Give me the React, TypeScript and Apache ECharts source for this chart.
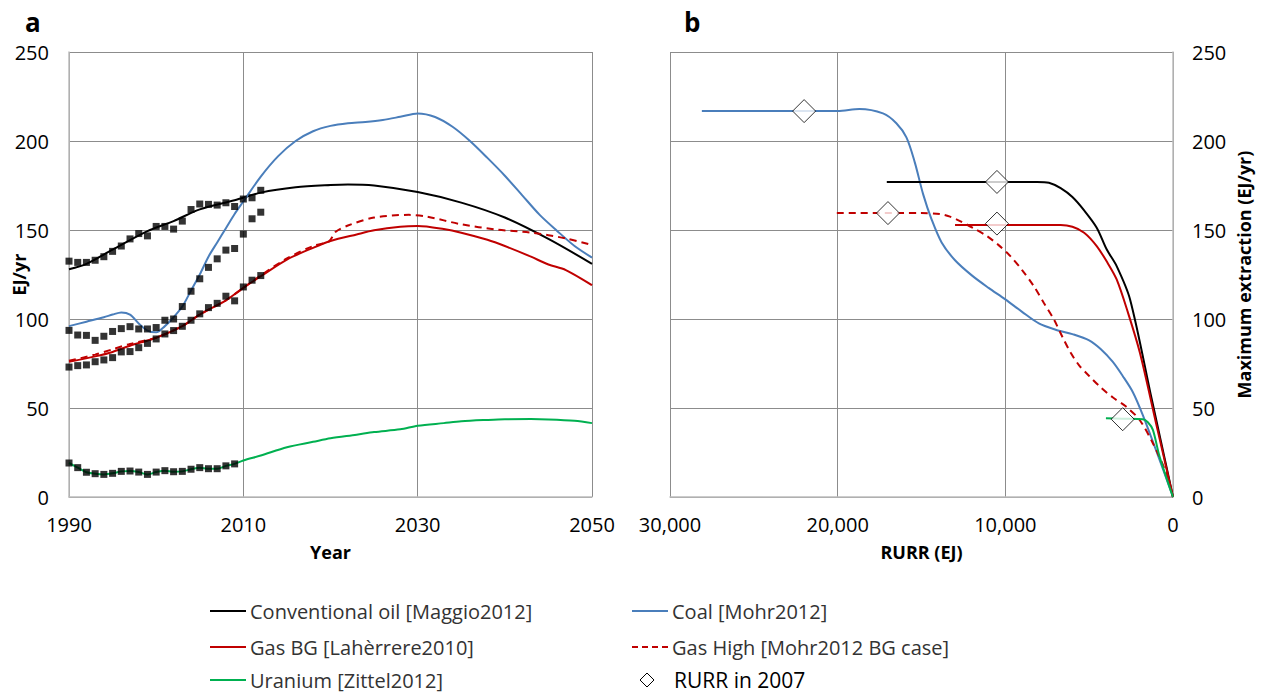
import React, { useEffect, useRef } from "react";
import * as echarts from "echarts";

// ---------- Panel a: historical data (black squares) ----------
const histYears = [1990, 1991, 1992, 1993, 1994, 1995, 1996, 1997, 1998, 1999, 2000, 2001, 2002, 2003, 2004, 2005, 2006, 2007, 2008, 2009, 2010, 2011, 2012];
const oilHist = [132.5, 131.8, 131.8, 133, 135, 138, 141, 145, 148, 146.7, 152, 152, 150.5, 155, 161.5, 164.6, 164.4, 164, 165.3, 163.2, 167.4, 168.1, 172.3];
const coalHist = [93.6, 91, 90.8, 88, 90.3, 93, 94.6, 95.7, 94.4, 94.4, 95.2, 99.3, 100, 107, 115.6, 122.6, 129, 133.8, 138.7, 139.6, 147.7, 156.3, 160];
const gasHist = [73, 73.8, 74.2, 76, 77, 78.3, 81.5, 81.7, 83.9, 86.3, 88.8, 91.6, 93.5, 95.9, 99.3, 102.9, 106.4, 108.8, 112.8, 110.2, 118, 121.8, 124.4];
const uraniumHist = [19.1, 16.5, 13.9, 13.1, 12.7, 13.3, 14.4, 14.6, 14.0, 12.7, 14.0, 14.8, 14.2, 14.4, 15.6, 16.5, 15.9, 15.9, 17.5, 18.6];

// ---------- Panel a: model curves [year, EJ/yr] ----------
const oilCurve = [[1990, 128], [1992, 131], [1995, 139], [1999, 149.4], [2002, 155], [2005, 161.6], [2009, 166.7], [2012, 171], [2016, 174], [2020, 175.3], [2022, 175.6], [2025, 175], [2030, 171.3], [2035, 165.4], [2040, 157], [2045, 145], [2050, 131]];
const coalCurve = [[1990, 96], [1992, 98.5], [1994, 101], [1995, 102.5], [1996, 103.7], [1997, 102.5], [1998, 97.5], [1999, 93.5], [2000, 92.5], [2001, 96], [2002, 101], [2003, 107], [2004, 116], [2005, 125], [2006, 135], [2007, 143], [2008, 151], [2009, 159], [2010, 166], [2012, 180], [2014, 191.5], [2016, 200], [2018, 205.5], [2020, 208.5], [2022, 210], [2024, 210.7], [2026, 211.8], [2028, 213.6], [2030, 215.5], [2032, 213.5], [2034, 208], [2036, 200], [2038, 190.5], [2040, 180.5], [2042, 169.5], [2044, 158.5], [2046, 149.5], [2048, 141], [2050, 134.5]];
const gasBGCurve = [[1990, 76], [1993, 79], [1995, 81.5], [1997, 85], [2000, 89.5], [2003, 96], [2005, 102.5], [2008, 110.5], [2010, 117.5], [2012, 124], [2015, 133.4], [2018, 140], [2020, 143.8], [2023, 147.5], [2025, 149.8], [2028, 151.8], [2030, 152.2], [2033, 150.5], [2035, 148.5], [2038, 144.5], [2040, 141], [2043, 135], [2045, 130.6], [2047, 127.5], [2050, 119]];
const gasHighCurve = [[1990, 76.5], [1993, 80], [1995, 83], [1997, 86], [2000, 89.5], [2003, 96], [2005, 102.5], [2008, 110.5], [2010, 117.5], [2012, 124.5], [2015, 134], [2018, 141], [2019.8, 143.5], [2020.6, 149], [2022, 152.5], [2025, 157], [2029, 158.5], [2031, 157.6], [2035, 153.2], [2039, 150.3], [2043, 148.5], [2047, 145.3], [2050, 141.5]];
const uraniumCurve = [[1990, 19.1], [1991, 16.5], [1992, 13.9], [1993, 13.1], [1994, 12.7], [1995, 13.3], [1996, 14.4], [1997, 14.6], [1998, 14.0], [1999, 12.7], [2000, 14.0], [2001, 14.8], [2002, 14.2], [2003, 14.4], [2004, 15.6], [2005, 16.5], [2006, 15.9], [2007, 15.9], [2008, 17.5], [2009, 18.6], [2010, 20.5], [2012, 23.3], [2015, 28], [2018, 31], [2020, 33], [2023, 35], [2025, 36.5], [2028, 38], [2030, 40], [2033, 41.5], [2035, 42.5], [2038, 43.3], [2040, 43.7], [2043, 43.8], [2045, 43.6], [2048, 42.8], [2050, 41.5]];

// ---------- Panel b: [RURR (EJ), max extraction (EJ/yr)] ----------
const coalRURR = [[28100, 216.8], [20000, 216.8], [18700, 218], [17300, 215.5], [16500, 210], [15900, 202], [15400, 188], [14900, 170], [14400, 156], [13800, 143], [13000, 133], [12000, 124.5], [11000, 117.5], [10000, 111], [9000, 104], [8000, 97.5], [7000, 94], [6000, 91.5], [5000, 88], [4300, 83], [3600, 76], [3000, 68], [2400, 59], [1800, 46], [1000, 26], [0, 0]];
const oilRURR = [[17070, 177], [8100, 177], [7400, 176.5], [6700, 173.5], [6000, 168.5], [5300, 161], [4550, 151.3], [3950, 139], [3360, 129.7], [2560, 111], [1280, 55.5], [0, 0]];
const gasBGRURR = [[13000, 152.8], [6700, 152.8], [6000, 151.8], [5300, 148.5], [4550, 141], [3900, 131.5], [3360, 122.2], [2700, 104], [1970, 80.9], [1000, 41], [0, 0]];
const gasHighRURR = [[20050, 159.5], [15000, 159.5], [13900, 159], [13300, 157.5], [12700, 155], [11900, 151], [11100, 146.6], [10400, 141.5], [9700, 135.3], [9000, 127.5], [8300, 118.4], [7700, 109], [7100, 99.7], [6600, 90], [6100, 81], [5600, 74], [5000, 68], [4300, 61.5], [3600, 56], [2800, 50.8], [2000, 43.4], [1200, 30.2], [400, 13.3], [0, 0]];
const uraniumRURR = [[4000, 44.3], [3000, 44], [1800, 43.7], [1500, 42], [1200, 37.7], [800, 22.7], [0, 0]];
const rurr2007 = [[22000, 216.8], [10500, 177], [17000, 159.5], [10500, 153.6], [3000, 43.7]];

// ---------- labels ----------
const legendLabels = [
  "Conventional oil [Maggio2012]",
  "Coal [Mohr2012]",
  "Gas BG [Lahèrrere2010]",
  "Gas High [Mohr2012 BG case]",
  "Uranium [Zittel2012]",
  "RURR in 2007",
];

const C_OIL = "#000000";
const C_COAL = "#4A7EBB";
const C_GAS = "#C00000";
const C_URAN = "#00B050";
const FONT = '"Open Sans", "Liberation Sans", sans-serif';

export default function App() {
  const ref = useRef<HTMLDivElement>(null);

  useEffect(() => {
    if (!ref.current) return;
    const chart = echarts.init(ref.current, null, { renderer: "svg" });

    const gridLine = { show: true, lineStyle: { color: "#8c8c8c", width: 1 } };
    const axisLn = { show: true, lineStyle: { color: "#bcbcbc", width: 1.5 } };
    const tickLabel = { color: "#000", fontSize: 20, fontFamily: FONT };
    const nameStyle = { color: "#000", fontSize: 18, fontWeight: "bold" as const, fontFamily: FONT };

    const lineS = (name: string, data: number[][], color: string, idx: number, dashed = false) => ({
      type: "line",
      name,
      data,
      xAxisIndex: idx,
      yAxisIndex: idx,
      smooth: 0.3,
      showSymbol: false,
      symbol: "none",
      lineStyle: { color, width: 2, type: dashed ? [7, 5] : "solid" },
      itemStyle: { color },
      z: 3,
    });

    const sq = (name: string, vals: number[]) => ({
      type: "scatter",
      name,
      data: vals.map((v, i) => [histYears[i], v]),
      xAxisIndex: 0,
      yAxisIndex: 0,
      symbol: "rect",
      symbolSize: 7,
      itemStyle: { color: "#000" },
      z: 5,
    });

    const legendRows = [611, 647, 680];
    const col1 = 210;
    const col2 = 632;
    const legendText = (x: number, y: number, text: string, size = 20, fill = "#333") => ({
      type: "text",
      x,
      y,
      style: { text, fill, font: `${size}px ${FONT}`, verticalAlign: "middle" },
    });
    const legendLine = (x: number, y: number, color: string, dashed = false) => ({
      type: "line",
      shape: { x1: x, y1: y, x2: x + 36, y2: y },
      style: { stroke: color, lineWidth: 2, lineDash: dashed ? [6, 4] : null },
    });

    const option: any = {
      animation: false,
      backgroundColor: "#fff",
      title: [
        { text: "a", left: 20, top: 4, textStyle: { fontSize: 26, fontWeight: "bold", fontFamily: FONT, color: "#000" } },
        { text: "b", left: 679, top: 4, textStyle: { fontSize: 26, fontWeight: "bold", fontFamily: FONT, color: "#000" } },
      ],
      grid: [
        { left: 69, top: 52, width: 523, height: 445 },
        { left: 670, top: 52, width: 503, height: 445 },
      ],
      xAxis: [
        {
          type: "value",
          gridIndex: 0,
          min: 1990,
          max: 2050,
          interval: 20,
          name: "Year",
          nameLocation: "middle",
          nameGap: 46,
          nameMoveOverlap: false,
          nameTextStyle: nameStyle,
          axisLine: axisLn,
          axisTick: { show: false },
          axisLabel: { ...tickLabel, margin: 17, formatter: (v: number) => String(v) },
          splitLine: gridLine,
        },
        {
          type: "value",
          gridIndex: 1,
          min: 0,
          max: 30000,
          interval: 10000,
          inverse: true,
          name: "RURR (EJ)",
          nameLocation: "middle",
          nameGap: 46,
          nameMoveOverlap: false,
          nameTextStyle: nameStyle,
          axisLine: axisLn,
          axisTick: { show: false },
          axisLabel: {
            ...tickLabel,
            margin: 17,
            formatter: (v: number) => v.toLocaleString("en-US"),
          },
          splitLine: gridLine,
        },
      ],
      yAxis: [
        {
          type: "value",
          gridIndex: 0,
          min: 0,
          max: 250,
          interval: 50,
          name: "EJ/yr",
          nameLocation: "middle",
          nameRotate: 90,
          nameGap: 41,
          nameMoveOverlap: false,
          nameTextStyle: nameStyle,
          axisLine: axisLn,
          axisTick: { show: false },
          axisLabel: { ...tickLabel, margin: 20 },
          splitLine: gridLine,
        },
        {
          type: "value",
          gridIndex: 1,
          position: "right",
          min: 0,
          max: 250,
          interval: 50,
          name: "Maximum extraction (EJ/yr)",
          nameLocation: "middle",
          nameRotate: 90,
          nameGap: 62,
          nameMoveOverlap: false,
          nameTextStyle: nameStyle,
          axisLine: axisLn,
          axisTick: { show: false },
          axisLabel: { ...tickLabel, margin: 19 },
          splitLine: gridLine,
        },
      ],
      series: [
        lineS(legendLabels[0], oilCurve, C_OIL, 0),
        lineS(legendLabels[1], coalCurve, C_COAL, 0),
        lineS(legendLabels[2], gasBGCurve, C_GAS, 0),
        lineS(legendLabels[3], gasHighCurve, C_GAS, 0, true),
        lineS(legendLabels[4], uraniumCurve, C_URAN, 0),
        sq("Oil data", oilHist),
        sq("Coal data", coalHist),
        sq("Gas data", gasHist),
        sq("Uranium data", uraniumHist),
        lineS(legendLabels[1], coalRURR, C_COAL, 1),
        lineS(legendLabels[0], oilRURR, C_OIL, 1),
        lineS(legendLabels[2], gasBGRURR, C_GAS, 1),
        lineS(legendLabels[3], gasHighRURR, C_GAS, 1, true),
        lineS(legendLabels[4], uraniumRURR, C_URAN, 1),
        {
          type: "scatter",
          name: legendLabels[5],
          data: rurr2007,
          xAxisIndex: 1,
          yAxisIndex: 1,
          symbol: "diamond",
          symbolSize: [23, 23],
          itemStyle: { color: "#fff", borderColor: "#000", borderWidth: 1 },
          z: 6,
        },
      ],
      graphic: [
        legendLine(col1, legendRows[0], C_OIL),
        legendText(col1 + 40, legendRows[0], legendLabels[0]),
        legendLine(col1, legendRows[1], C_GAS),
        legendText(col1 + 40, legendRows[1], legendLabels[2]),
        legendLine(col1, legendRows[2], C_URAN),
        legendText(col1 + 40, legendRows[2], legendLabels[4]),
        legendLine(col2, legendRows[0], C_COAL),
        legendText(col2 + 40, legendRows[0], legendLabels[1]),
        legendLine(col2, legendRows[1], C_GAS, true),
        legendText(col2 + 40, legendRows[1], legendLabels[3]),
        {
          type: "polygon",
          shape: { points: [[647, legendRows[2] - 7], [654, legendRows[2]], [647, legendRows[2] + 7], [640, legendRows[2]]] },
          style: { fill: "#fff", stroke: "#000", lineWidth: 1 },
        },
        legendText(col2 + 42, legendRows[2], legendLabels[5], 21, "#000"),
      ],
    };

    chart.setOption(option);
    return () => chart.dispose();
  }, []);

  return (
    <div
      ref={ref}
      style={{ position: "fixed", left: 0, top: 0, width: 1263, height: 695, background: "#fff" }}
    />
  );
}
